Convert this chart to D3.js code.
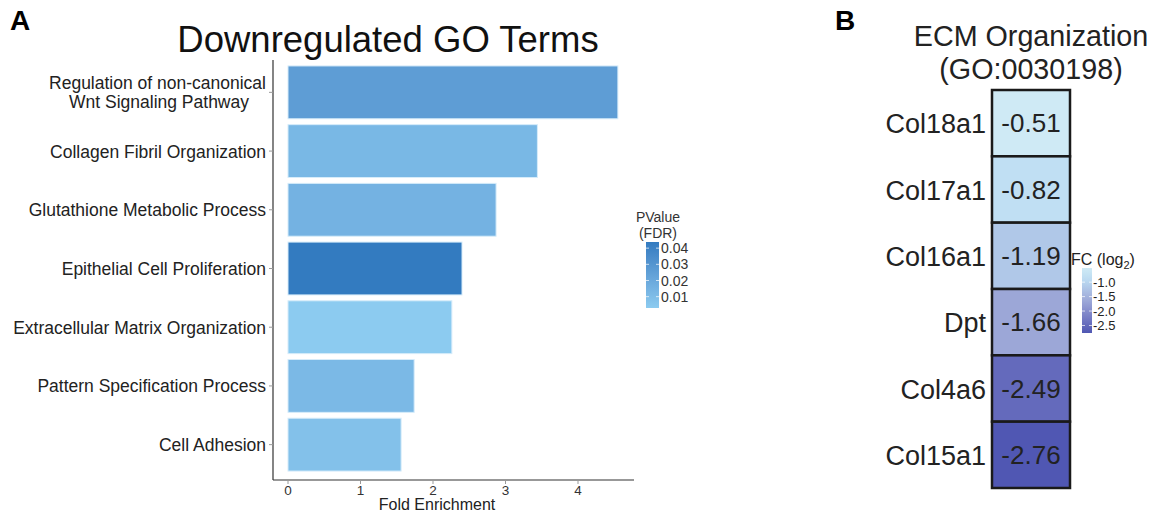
<!DOCTYPE html>
<html>
<head>
<meta charset="utf-8">
<script src="https://cdn.jsdelivr.net/npm/d3@7"></script>
<style>
  html, body { margin: 0; padding: 0; background: #fff; }
  svg { display: block; font-family: "Liberation Sans", Arial, sans-serif; }
</style>
</head>
<body>
<svg id="chart" width="1152" height="514"></svg>
<script>
// GO enrichment (panel A)
const terms = [
  "Regulation of non-canonical\nWnt Signaling Pathway",
  "Collagen Fibril Organization",
  "Glutathione Metabolic Process",
  "Epithelial Cell Proliferation",
  "Extracellular Matrix Organization",
  "Pattern Specification Process",
  "Cell Adhesion"
];
const foldEnrichment = [4.55, 3.44, 2.87, 2.40, 2.26, 1.74, 1.56];
const pValues = [0.0258, 0.0124, 0.0152, 0.0438, 0.0030, 0.0116, 0.0077];
const xTicks = [0, 1, 2, 3, 4];
const pTicks = [0.01, 0.02, 0.03, 0.04];

// ECM organization genes (panel B)
const genes = ["Col18a1", "Col17a1", "Col16a1", "Dpt", "Col4a6", "Col15a1"];
const log2FC = [-0.51, -0.82, -1.19, -1.66, -2.49, -2.76];
const fcTicks = [-1.0, -1.5, -2.0, -2.5];

const svg = d3.select("#chart");
const defs = svg.append("defs");

// ---------- Panel A ----------
const x = d3.scaleLinear().domain([0, 4]).range([288, 578]);
const y = d3.scaleBand().domain(terms).range([63, 474]).paddingInner(0.1).paddingOuter(0.05);
const pExtent = d3.extent(pValues);
const pColor = d3.scaleLinear().domain(pExtent).range(["#8ccbf0", "#337bc0"]).interpolate(d3.interpolateLab);

svg.append("text").attr("x", 10).attr("y", 30).attr("font-size", 28).attr("font-weight", "bold").text("A");
svg.append("text").attr("x", 388).attr("y", 52).attr("text-anchor", "middle").attr("font-size", 36.5).attr("fill", "#111").text("Downregulated GO Terms");

svg.append("g").selectAll("rect").data(terms).join("rect")
  .attr("x", x(0))
  .attr("y", d => y(d))
  .attr("width", (d, i) => x(foldEnrichment[i]) - x(0))
  .attr("height", y.bandwidth())
  .attr("fill", (d, i) => pColor(pValues[i]))
  .attr("stroke", "#d6ecfa").attr("stroke-width", 1);

// axis lines
svg.append("line").attr("x1", 273).attr("x2", 273).attr("y1", 60).attr("y2", 480).attr("stroke", "#333").attr("stroke-width", 1.2);
svg.append("line").attr("x1", 273).attr("x2", 634).attr("y1", 480).attr("y2", 480).attr("stroke", "#333").attr("stroke-width", 1.2);

// term labels
const yl = svg.append("g");
terms.forEach(t => {
  const cy = y(t) + y.bandwidth() / 2;
  yl.append("line").attr("x1", 269).attr("x2", 273).attr("y1", cy).attr("y2", cy).attr("stroke", "#999");
  const lines = t.split("\n");
  lines.forEach((ln, k) => {
    yl.append("text").attr("text-anchor", "end").attr("font-size", 17.5).attr("fill", "#222")
      .attr("x", k === 0 ? 266 : 249)
      .attr("y", cy + 6.5 + (k - (lines.length - 1) / 2) * 19)
      .text(ln);
  });
});

// x ticks
const xa = svg.append("g");
xTicks.forEach(v => {
  xa.append("line").attr("x1", x(v)).attr("x2", x(v)).attr("y1", 480).attr("y2", 484).attr("stroke", "#999");
  xa.append("text").attr("x", x(v)).attr("y", 495).attr("text-anchor", "middle").attr("font-size", 13.5).attr("fill", "#333").text(v);
});
svg.append("text").attr("x", 437).attr("y", 510).attr("text-anchor", "middle").attr("font-size", 16).attr("fill", "#222").text("Fold Enrichment");

// p-value legend
const pg = defs.append("linearGradient").attr("id", "pgrad").attr("x1", 0).attr("x2", 0).attr("y1", 1).attr("y2", 0);
d3.range(0, 1.001, 0.1).forEach(f => {
  pg.append("stop").attr("offset", f).attr("stop-color", pColor(pExtent[0] + f * (pExtent[1] - pExtent[0])));
});
const pLeg = d3.scaleLinear().domain(pExtent).range([308, 242]);
svg.append("text").attr("x", 658).attr("y", 222).attr("text-anchor", "middle").attr("font-size", 14).attr("fill", "#333").text("PValue");
svg.append("text").attr("x", 658).attr("y", 238).attr("text-anchor", "middle").attr("font-size", 14).attr("fill", "#333").text("(FDR)");
svg.append("rect").attr("x", 646).attr("y", 242).attr("width", 13).attr("height", 66).attr("fill", "url(#pgrad)");
pTicks.forEach(v => {
  svg.append("line").attr("x1", 646).attr("x2", 649).attr("y1", pLeg(v)).attr("y2", pLeg(v)).attr("stroke", "#fff").attr("stroke-opacity", 0.7);
  svg.append("line").attr("x1", 656).attr("x2", 659).attr("y1", pLeg(v)).attr("y2", pLeg(v)).attr("stroke", "#fff").attr("stroke-opacity", 0.7);
  svg.append("text").attr("x", 661).attr("y", pLeg(v) + 5).attr("font-size", 14).attr("fill", "#333").text(v.toFixed(2));
});

// ---------- Panel B ----------
svg.append("text").attr("x", 835).attr("y", 30).attr("font-size", 28).attr("font-weight", "bold").text("B");
svg.append("text").attr("x", 1031).attr("y", 46).attr("text-anchor", "middle").attr("font-size", 28.7).attr("fill", "#222").text("ECM Organization");
svg.append("text").attr("x", 1031).attr("y", 79).attr("text-anchor", "middle").attr("font-size", 28.7).attr("fill", "#222").text("(GO:0030198)");

const fcExtent = d3.extent(log2FC);
const fcColor = d3.scaleLinear()
  .domain([-0.51, -0.9, -1.66, -2.76])
  .range(["#cfeaf5", "#bcdcf2", "#9ca7d7", "#5057b3"])
  .interpolate(d3.interpolateLab);
const gy = d3.scaleBand().domain(genes).range([90, 488]);

const cells = svg.append("g");
cells.selectAll("rect").data(genes).join("rect")
  .attr("x", 992).attr("y", d => gy(d)).attr("width", 78).attr("height", gy.bandwidth())
  .attr("fill", (d, i) => fcColor(log2FC[i]))
  .attr("stroke", "#1a1a1a").attr("stroke-width", 2.5);
cells.selectAll("text.v").data(genes).join("text").attr("class", "v")
  .attr("x", 1031).attr("y", d => gy(d) + gy.bandwidth() / 2 + 9)
  .attr("text-anchor", "middle").attr("font-size", 26).attr("fill", "#222")
  .text((d, i) => log2FC[i].toFixed(2));
cells.selectAll("text.g").data(genes).join("text").attr("class", "g")
  .attr("x", 986).attr("y", d => gy(d) + gy.bandwidth() / 2 + 10)
  .attr("text-anchor", "end").attr("font-size", 27).attr("fill", "#222")
  .text(d => d);

// FC legend
const fg = defs.append("linearGradient").attr("id", "fgrad").attr("x1", 0).attr("x2", 0).attr("y1", 0).attr("y2", 1);
d3.range(0, 1.001, 0.1).forEach(f => {
  fg.append("stop").attr("offset", f).attr("stop-color", fcColor(fcExtent[1] + f * (fcExtent[0] - fcExtent[1])));
});
const fLeg = d3.scaleLinear().domain([fcExtent[1], fcExtent[0]]).range([268, 333]);
const ft = svg.append("text").attr("x", 1071).attr("y", 265).attr("font-size", 16).attr("fill", "#222");
ft.append("tspan").text("FC (log");
ft.append("tspan").attr("font-size", 11).attr("dy", 4).text("2");
ft.append("tspan").attr("dy", -4).text(")");
svg.append("rect").attr("x", 1082).attr("y", 268).attr("width", 10).attr("height", 65).attr("fill", "url(#fgrad)");
fcTicks.forEach(v => {
  svg.append("line").attr("x1", 1082).attr("x2", 1085).attr("y1", fLeg(v)).attr("y2", fLeg(v)).attr("stroke", "#fff").attr("stroke-opacity", 0.7);
  svg.append("line").attr("x1", 1089).attr("x2", 1092).attr("y1", fLeg(v)).attr("y2", fLeg(v)).attr("stroke", "#fff").attr("stroke-opacity", 0.7);
  svg.append("text").attr("x", 1093).attr("y", fLeg(v) + 4.5).attr("font-size", 13).attr("fill", "#222").text(v.toFixed(1));
});
</script>
</body>
</html>
